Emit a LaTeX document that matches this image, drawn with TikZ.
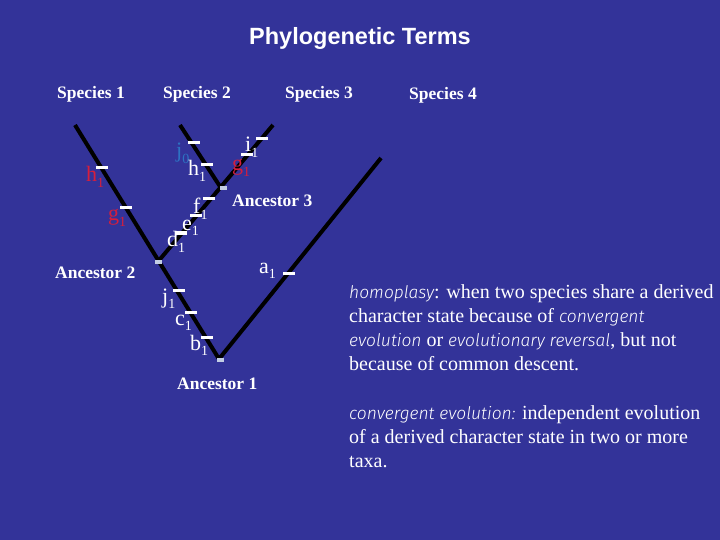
\documentclass[tikz,border=0pt]{standalone}
\usepackage{fontspec}
\setmainfont{Liberation Serif}
\newfontfamily\titlefont{Liberation Sans}
\newfontfamily\thinit{Fira Sans Light Italic}[Scale=0.87]
\definecolor{bgblue}{RGB}{51,51,153}
\definecolor{labred}{RGB}{215,30,60}
\definecolor{labblue}{RGB}{45,115,195}
\definecolor{markgray}{RGB}{195,205,228}
\newcommand\sublab[2]{#1\raisebox{-5.5pt}{\fontsize{14}{14}\selectfont #2}}
\begin{document}
\begin{tikzpicture}[x=1pt,y=-1pt,
  branch/.style={line width=4pt, black, line join=round},
  tickbar/.style={white, line width=3pt},
  anc/.style={fill=markgray, draw=none, minimum width=7pt, minimum height=4pt, inner sep=0pt},
  lbl/.style={anchor=base west, inner sep=0pt, font=\fontsize{22}{22}\selectfont},
  sp/.style={anchor=base west, inner sep=0pt, text=white, font=\fontsize{17.5}{18}\selectfont\bfseries},
  para/.style={anchor=base west, inner sep=0pt, text=white, font=\fontsize{20}{24}\selectfont}]
\fill[bgblue] (0,0) rectangle (720,540);
\useasboundingbox (0,0) rectangle (720,540);
% tree points
\coordinate (s1) at (75,125);
\coordinate (s2) at (180,125);
\coordinate (s3) at (273,125);
\coordinate (s4) at (381,158);
\coordinate (a1) at (219,359);
\coordinate (a2) at (158.5,261);
\coordinate (a3) at (221,188);
% branches
\draw[branch] (s1) -- (a1) -- (s4);
\draw[branch] (a2) -- (s3);
\draw[branch] (s2) -- (a3);
% character-change ticks
\foreach \x/\y in {102/168, 126/208, 194/143, 207/165, 262/139, 247/155,
                   209/199, 196/216, 181/233, 179/290, 191/312, 207/337, 289/273}
  \draw[tickbar] (\x-6,\y) -- (\x+6,\y);
% ancestor markers
\node[anc] (m1) at (220,360) {};
\node[anc] (m2) at (158.5,262) {};
\node[anc] (m3) at (223,188.5) {};
% branch labels
\node[lbl, text=labred] (lh1a) at (86,182) {\sublab{h}{1}};
\node[lbl, text=labred] (lg1a) at (108,221) {\sublab{g}{1}};
\node[lbl, text=labblue] (lj0) at (176,158) {\sublab{j}{0}};
\node[lbl, text=white] (lh1b) at (188,176) {\sublab{h}{1}};
\node[lbl, text=white] (li1) at (245,152) {\sublab{i}{1}};
\node[lbl, text=labred] (lg1b) at (232,171) {\sublab{g}{1}};
\node[lbl, text=white] (lf1) at (193,214) {\sublab{f}{1}};
\node[lbl, text=white] (le1) at (182,230) {\sublab{e}{1}};
\node[lbl, text=white] (ld1) at (167,247) {\sublab{d}{1}};
\node[lbl, text=white] (lj1) at (162,303) {\sublab{j}{1}};
\node[lbl, text=white] (lc1) at (175,325) {\sublab{c}{1}};
\node[lbl, text=white] (lb1) at (190,350) {\sublab{b}{1}};
\node[lbl, text=white] (la1) at (259,273) {\sublab{a}{1}};
% title
\node[anchor=base, inner sep=0pt, text=white, font=\titlefont\bfseries\fontsize{23.5}{24}\selectfont] (title) at (360,45) {Phylogenetic Terms};
% species and ancestors
\node[sp] (sp1) at (57,99) {Species 1};
\node[sp] (sp2) at (163,99) {Species 2};
\node[sp] (sp3) at (285,99) {Species 3};
\node[sp] (sp4) at (409,100) {Species 4};
\node[sp] (an2) at (55,278) {Ancestor 2};
\node[sp] (an3) at (232,207) {Ancestor 3};
\node[sp] (an1) at (177,389) {Ancestor 1};
% definitions
\node[para] (p1) at (349,298) {{\thinit homoplasy}: when two species share a derived};
\node[para] (p2) at (349,322) {character state because of {\thinit convergent}};
\node[para] (p3) at (349,346) {{\thinit evolution} or {\thinit evolutionary reversal}, but not};
\node[para] (p4) at (349,370) {because of common descent.};
\node[para] (q1) at (349,419) {{\thinit convergent evolution:} independent evolution};
\node[para] (q2) at (349,443) {of a derived character state in two or more};
\node[para] (q3) at (349,467) {taxa.};
\end{tikzpicture}
\end{document}
